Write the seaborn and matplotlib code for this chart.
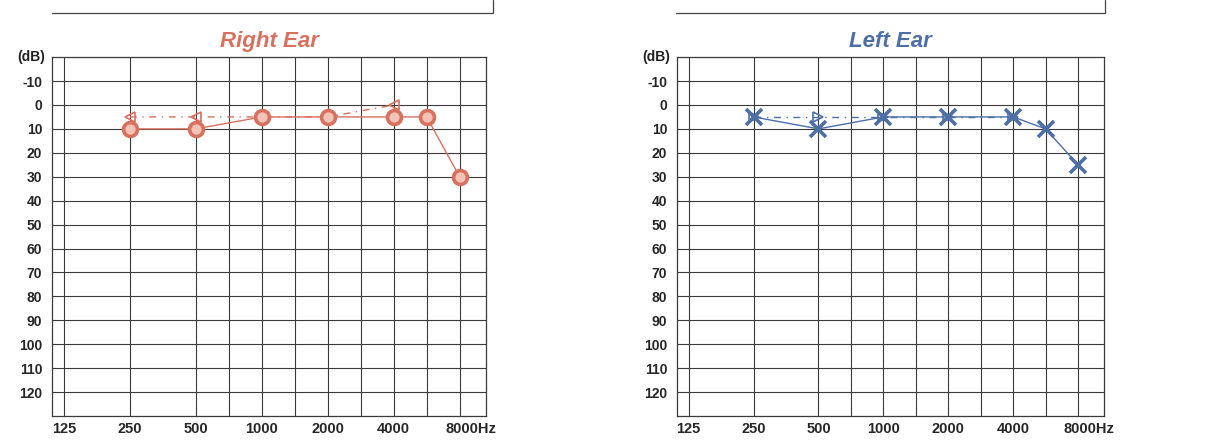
import numpy as np
import seaborn as sns
import matplotlib.pyplot as plt
from matplotlib.lines import Line2D
from matplotlib.transforms import ScaledTranslation

# audiogram columns: octave lines plus the half-octave lines in between
GRID_FREQS = [125, 250, 500, 750, 1000, 1500, 2000, 3000, 4000, 6000, 8000]
GRID_POS = [0, 1, 2, 2.5, 3, 3.5, 4, 4.5, 5, 5.5, 6]
TICK_FREQS = [125, 250, 500, 1000, 2000, 4000, 8000]
TICK_LABELS = ["125", "250", "500", "1000", "2000", "4000", "8000Hz"]
DB_TICKS = [-10, 0, 10, 20, 30, 40, 50, 60, 70, 80, 90, 100, 110, 120]

# hearing thresholds (dB HL)
air_freqs = [250, 500, 1000, 2000, 4000, 6000, 8000]
right_air = [10, 10, 5, 5, 5, 5, 30]
left_air = [5, 10, 5, 5, 5, 10, 25]
bone_freqs = [250, 500, 1000, 2000, 4000]
right_bone = [5, 5, 5, 5, 0]
left_bone = [5, 5, 5, 5, 5]

RED = "#d8705f"
BLUE = "#4d6fa6"
GRID = "#3a3a3a"


def col(freqs):
    """map frequency to audiogram column position"""
    return np.interp(freqs, GRID_FREQS, GRID_POS)


def draw_ear(ax, title, color, air, bone, air_marker, bone_marker):
    ax.set_xlim(-0.18, 6.4)
    ax.set_ylim(130, -20)

    # grid
    for p in GRID_POS:
        ax.axvline(p, color=GRID, lw=0.8, zorder=1)
    for d in DB_TICKS:
        ax.axhline(d, color=GRID, lw=0.8, zorder=1)

    # bone conduction (dashed)
    sns.lineplot(x=col(bone_freqs), y=bone, ax=ax, color=color, lw=1.0,
                 linestyle=(0, (5, 4, 1, 4)), marker=bone_marker, markersize=7,
                 markeredgewidth=1.2, markerfacecolor="none", markeredgecolor=color,
                 zorder=3)

    # air conduction (solid)
    if air_marker == "o":
        mkw = dict(markersize=10, markeredgewidth=2.6, markerfacecolor="#f3c3b8",
                   markeredgecolor=color)
    else:
        mkw = dict(markersize=11, markeredgewidth=2.6, markeredgecolor=color)
    sns.lineplot(x=col(air_freqs), y=air, ax=ax, color=color, lw=1.0,
                 marker=air_marker, zorder=4, **mkw)

    ax.set_xticks(col(TICK_FREQS))
    ax.set_xticklabels(TICK_LABELS, fontsize=10.5)
    ax.set_yticks(DB_TICKS)
    ax.set_yticklabels([str(d) for d in DB_TICKS], fontsize=10)
    ax.tick_params(axis="y", length=0, pad=7)
    ax.tick_params(axis="x", length=0, pad=4)
    for lab in ax.get_xticklabels() + ax.get_yticklabels():
        lab.set_fontweight("bold")
    # keep the "8000" part centred on its line
    last = ax.get_xticklabels()[-1]
    last.set_transform(last.get_transform() + ScaledTranslation(8 / 72, 0, ax.figure.dpi_scale_trans))

    ax.text(-0.015, 1.0, "(dB)", transform=ax.transAxes, ha="right", va="center",
            fontsize=10, fontweight="bold", color="#222222")

    for s in ax.spines.values():
        s.set_visible(True)
        s.set_color(GRID)
        s.set_linewidth(0.9)

    ax.set_title(title, color=color, fontsize=16, fontweight="bold",
                 fontstyle="italic", pad=7)
    ax.set_xlabel("")
    ax.set_ylabel("")


sns.set_style("white")
plt.rcParams["font.family"] = ["Liberation Sans", "DejaVu Sans"]

fig = plt.figure(figsize=(12.32, 4.42), dpi=100)
ax_r = fig.add_axes([0.0422, 0.0588, 0.3523, 0.812])
ax_l = fig.add_axes([0.5495, 0.0588, 0.3466, 0.812])

draw_ear(ax_r, "Right Ear", RED, right_air, right_bone, "o", "<")
draw_ear(ax_l, "Left Ear", BLUE, left_air, left_bone, "x", ">")

# bottom edge of the box above each chart
y_box = 1 - 13 / 442
for x0, x1 in [(52 / 1232, 493 / 1232), (676 / 1232, 1105 / 1232)]:
    fig.add_artist(Line2D([x0, x1, x1], [y_box, y_box, 1.0], color="#444444", lw=0.9))

fig.savefig("out.png", dpi=100)
